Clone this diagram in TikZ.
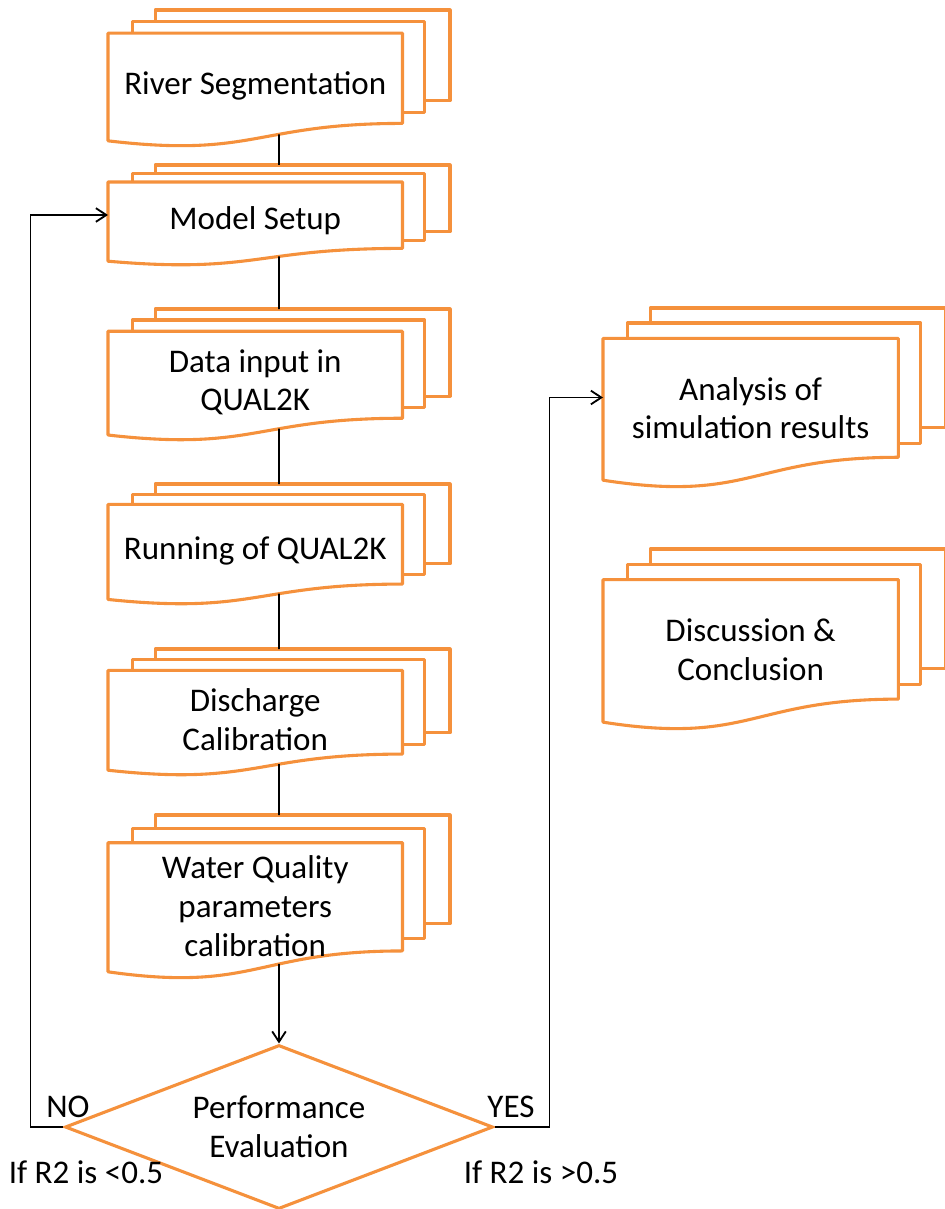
\documentclass[tikz,border=0pt]{standalone}
\usepackage{fontspec}
\setmainfont{Carlito}
\usepackage{tikz}
\usetikzlibrary{shapes.geometric,arrows.meta}
\definecolor{dorange}{RGB}{245,145,60}

\tikzset{
  page/.style={draw=dorange, fill=white, line width=2.2pt, line join=round},
  doctext/.style={align=center, inner sep=0pt, font=\fontsize{23.5}{27.5}\selectfont},
  link/.style={draw=black, line width=1.3pt},
  arrowlink/.style={link, -{Straight Barb[length=2.6mm,width=3.4mm]}},
  decision/.style={diamond, draw=dorange, fill=white, line width=2.2pt, aspect=2.6,
    inner sep=0pt, minimum width=107mm, minimum height=41mm, align=center,
    font=\fontsize{23.5}{27.5}\selectfont},
  lbl/.style={inner sep=0pt, font=\fontsize{23.5}{27.5}\selectfont}
}

% multi-document box: name, left x, top y, width, height, text
\newcommand{\multidoc}[6]{%
  \begin{scope}[shift={(#2,#3)}, xscale=#4, yscale=#5]
    \draw[page] (0.1376,0) rectangle (1,0.666);
    \draw[page] (0.0709,0.084) rectangle (0.926,0.755);
    \draw[page] (0,0.962) .. controls (0.4305,1.090) and (0.4305,0.834) .. (0.861,0.834)
      coordinate[pos=0.606] (#1-bot) -- (0.861,0.17) -- (0,0.17) -- cycle;
    \coordinate (#1-top) at (0.5,0);
    \coordinate (#1-left) at (0,0.5);
    \node[doctext] (#1) at (0.4305,0.56) {#6};
  \end{scope}}

\begin{document}
\begin{tikzpicture}[x=0.25mm, y=-0.25mm]
\useasboundingbox (0,0) rectangle (944,1209);
% left column
\multidoc{river}{108}{10}{342}{136}{River Segmentation}
\multidoc{setup}{108}{165}{342}{100}{Model Setup}
\multidoc{input}{108}{309}{342}{131}{Data input in\\QUAL2K}
\multidoc{running}{108}{484}{342}{120}{Running of QUAL2K}
\multidoc{discharge}{108}{649}{342}{126}{Discharge\\Calibration}
\multidoc{quality}{108}{815}{342}{163}{Water Quality\\parameters\\calibration}
% right column
\multidoc{analysis}{603}{308}{343}{179}{Analysis of\\simulation results}
\multidoc{discuss}{603}{549}{343}{180}{Discussion \&\\Conclusion}
% decision
\node[decision] (perf) at (279,1127) {Performance\\Evaluation};
\node[lbl] (no) at (68,1107) {NO};
\node[lbl] (yes) at (511,1107) {YES};
\node[lbl] (condno) at (86,1172) {If R2 is <0.5};
\node[lbl] (condyes) at (541,1172) {If R2 is >0.5};
% connectors
\draw[link] (river-bot) -- (setup-top);
\draw[link] (setup-bot) -- (input-top);
\draw[link] (input-bot) -- (running-top);
\draw[link] (running-bot) -- (discharge-top);
\draw[link] (discharge-bot) -- (quality-top);
\draw[arrowlink] (quality-bot) -- (perf.north);
\draw[arrowlink] (perf.west) -- ++(-33,0) |- (setup-left);
\draw[arrowlink] (perf.east) -- ++(55,0) |- (analysis-left);
\end{tikzpicture}
\end{document}
